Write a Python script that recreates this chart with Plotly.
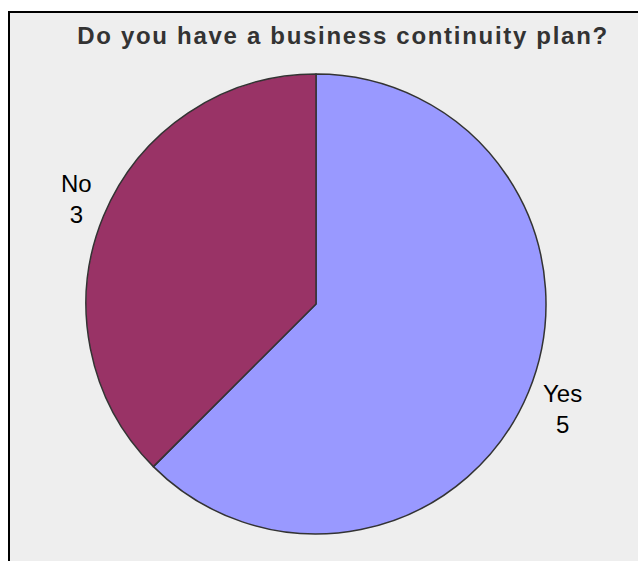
import plotly.graph_objects as go

# Survey answers
categories = ["Yes", "No"]
counts = [5, 3]
colors = ["#9999FF", "#993366"]
title_text = "Do you have a business continuity plan?"

W, H = 638, 561

fig = go.Figure()

fig.add_trace(go.Pie(
    labels=categories,
    values=counts,
    sort=False,
    direction="clockwise",
    rotation=0,
    textinfo="none",
    hoverinfo="label+value",
    marker=dict(colors=colors, line=dict(color="#333333", width=1.5)),
    domain=dict(x=[86 / W, 546 / W], y=[27 / H, 487 / H]),
    showlegend=False,
))

# Category labels with their counts, placed beside their slices
label_pos = {"No": (76.5, 199), "Yes": (562, 409)}
for cat, val in zip(categories, counts):
    px, py = label_pos[cat]
    fig.add_annotation(
        x=px / W, y=1 - py / H, xref="paper", yref="paper",
        text=f"{cat}<br>{val}", showarrow=False,
        xanchor="center", yanchor="middle", align="center",
        font=dict(family="Liberation Sans, Arial, sans-serif", size=24, color="#000000"),
    )

# Grey chart panel with a black frame
fig.add_shape(
    type="rect", xref="paper", yref="paper",
    x0=9 / W, x1=1.2, y0=-0.2, y1=1 - 12 / H,
    fillcolor="#EEEEEE", line=dict(color="#000000", width=2), layer="below",
)

fig.update_layout(
    width=W, height=H,
    margin=dict(l=0, r=0, t=0, b=0),
    paper_bgcolor="#FFFFFF",
    title=dict(
        text=title_text,
        x=343 / W, xanchor="center",
        y=1 - 36 / H, yanchor="middle",
        font=dict(family="Liberation Sans, Arial, sans-serif", size=24, color="#333333", weight="bold"),
    ),
)

fig.write_html(
    "out.html",
    post_script="document.querySelectorAll('.gtitle').forEach(function(t){t.style.letterSpacing='1.7px';});",
)
